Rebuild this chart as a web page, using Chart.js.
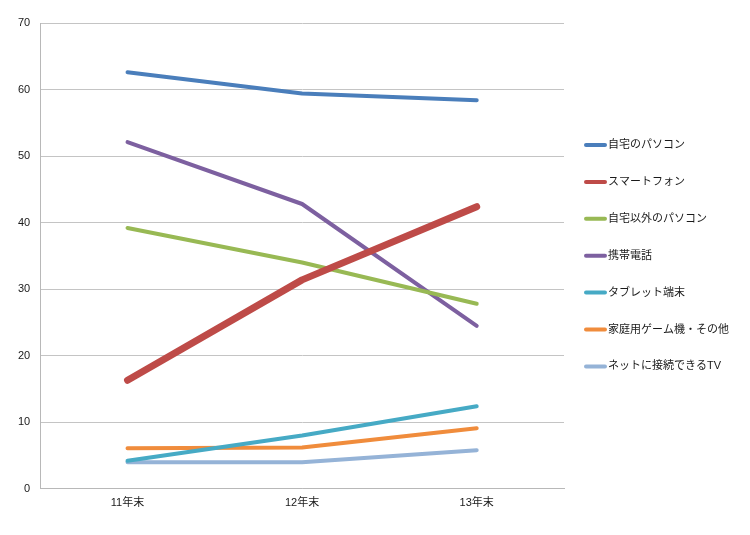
<!DOCTYPE html>
<html lang="ja">
<head>
    <meta charset="UTF-8">
    <title>インターネット利用端末の推移</title>
    <script src="https://cdn.jsdelivr.net/npm/chart.js"></script>
    <style>
        html, body { margin: 0; padding: 0; background: #fff; }
        #wrap { width: 750px; height: 535px; }
    </style>
</head>
<body>
    <div id="wrap"><canvas id="deviceChart" width="750" height="535"></canvas></div>

    <script>
        // data
        const years = ['11年末', '12年末', '13年末'];
        const seriesNames = ['自宅のパソコン', 'スマートフォン', '自宅以外のパソコン', '携帯電話',
                             'タブレット端末', '家庭用ゲーム機・その他', 'ネットに接続できるTV'];
        const homePC = [62.6, 59.4, 58.4];
        const smartphone = [16.3, 31.4, 42.4];
        const otherPC = [39.2, 34.0, 27.8];
        const mobilePhone = [52.1, 42.8, 24.5];
        const tablet = [4.2, 8.0, 12.4];
        const gameConsole = [6.1, 6.2, 9.1];
        const netTV = [4.0, 4.0, 5.8];
        const yTicks = [0, 10, 20, 30, 40, 50, 60, 70];

        const colors = ['#4a7ebb', '#be4b48', '#98b954', '#7d60a0', '#46aac5', '#f08c3c', '#95b3d7'];
        const widths = [4, 7, 4, 4, 4, 4, 4];
        const values = [homePC, smartphone, otherPC, mobilePhone, tablet, gameConsole, netTV];

        const fontFamily = '"Liberation Sans", "Noto Sans CJK JP", sans-serif';

        // simple right-hand legend with short line samples
        const lineLegend = {
            id: 'lineLegend',
            afterDraw(chart) {
                const c = chart.ctx;
                const x0 = chart.chartArea.right + 20;
                const yStart = 145;
                const step = 36.9;
                c.save();
                c.font = '11px ' + fontFamily;
                c.textBaseline = 'middle';
                c.textAlign = 'left';
                chart.data.datasets.forEach((ds, i) => {
                    const y = yStart + i * step;
                    c.strokeStyle = ds.borderColor;
                    c.lineWidth = 4;
                    c.lineCap = 'round';
                    c.beginPath();
                    c.moveTo(x0 + 2, y);
                    c.lineTo(x0 + 21, y);
                    c.stroke();
                    c.fillStyle = '#1a1a1a';
                    c.fillText(ds.label, x0 + 24, y);
                });
                c.restore();
            }
        };

        const ctx = document.getElementById('deviceChart').getContext('2d');
        const chart = new Chart(ctx, {
            type: 'line',
            data: {
                labels: years,
                datasets: seriesNames.map((name, i) => ({
                    label: name,
                    data: values[i],
                    borderColor: colors[i],
                    backgroundColor: colors[i],
                    borderWidth: widths[i],
                    borderCapStyle: 'round',
                    borderJoinStyle: 'round',
                    pointRadius: 0,
                    pointHoverRadius: 0,
                    tension: 0,
                    fill: false
                }))
            },
            options: {
                responsive: false,
                animation: false,
                layout: {
                    padding: { top: 23, bottom: 17, left: 8, right: 186 }
                },
                plugins: {
                    legend: { display: false },
                    tooltip: { enabled: false }
                },
                scales: {
                    x: {
                        offset: true,
                        grid: { display: false, drawTicks: false },
                        border: { display: true, color: '#b8b8b8', width: 1 },
                        ticks: {
                            padding: 8,
                            color: '#1a1a1a',
                            font: { family: fontFamily, size: 11 }
                        }
                    },
                    y: {
                        min: 0,
                        max: 70,
                        afterBuildTicks(axis) {
                            axis.ticks = yTicks.map(v => ({ value: v }));
                        },
                        grid: { color: '#c4c4c4', lineWidth: 1, drawTicks: false },
                        border: { display: true, color: '#b8b8b8', width: 1 },
                        ticks: {
                            padding: 10,
                            color: '#1a1a1a',
                            font: { family: fontFamily, size: 11 }
                        }
                    }
                }
            },
            plugins: [lineLegend]
        });
    </script>
</body>
</html>
